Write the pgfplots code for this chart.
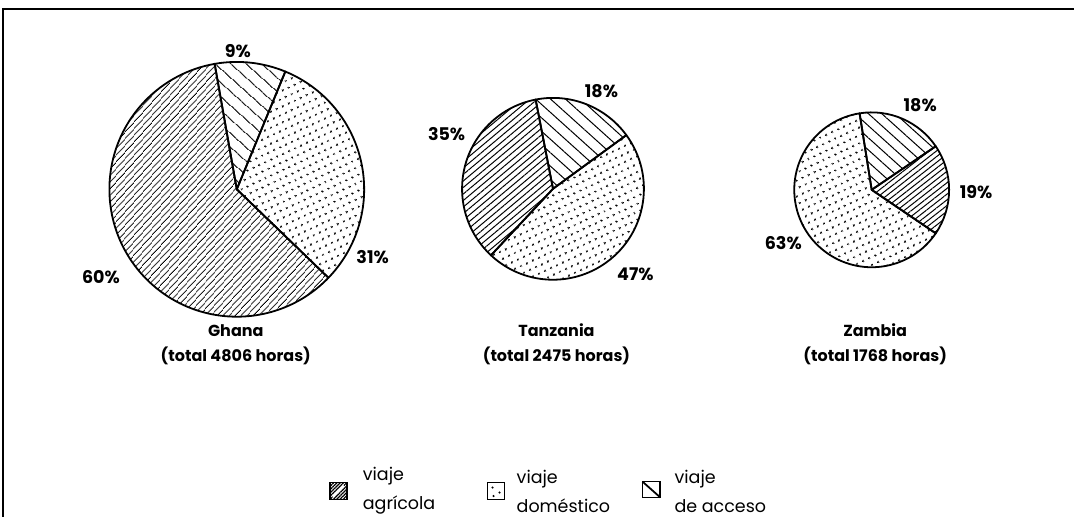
\documentclass[border=0pt]{standalone}
\usepackage{pgfplots}
\pgfplotsset{compat=1.18}
\usepackage{fontspec}
\setmainfont{Poppins}
\usetikzlibrary{patterns.meta}

% wedge: cx, cy, r, start angle, end angle, pattern
\newcommand\pwedge[6]{%
  \filldraw[pattern={#6}, draw=black, line width=1.8pt, line join=round]
    (axis cs:#1,#2) -- (axis cs:{#1+#3*cos(#4)},{#2+#3*sin(#4)})
    arc[start angle={#4}, end angle={#5}, radius=#3pt] -- cycle;}

\tikzset{
  pctlbl/.style={font=\fontsize{17.5}{20}\selectfont\bfseries},
  caplbl/.style={font=\fontsize{16}{25}\selectfont\bfseries, align=center},
  leglbl/.style={font=\fontsize{17.5}{29}\selectfont, align=left, anchor=west, inner sep=0pt}
}

\begin{document}
\begin{tikzpicture}
\begin{axis}[x=1pt, y=1pt, xmin=0, xmax=1075, ymin=0, ymax=517,
  hide axis, clip=false, scale only axis]
\path (axis cs:0,0) rectangle (axis cs:1075,517);
% frame
\draw[line width=2pt] (axis cs:3,0) -- (axis cs:3,508) -- (axis cs:1075,508);

% Ghana: access 9, domestic 31, agricultural 60
\pwedge{237}{327.5}{127.5}{100}{100-3.6*9}{Lines[angle=-42, distance=10.5pt, line width=1pt]}
\pwedge{237}{327.5}{127.5}{100-3.6*9}{100-3.6*40}{Dots[distance=6.5pt, radius=1.25pt, angle=25]}
\pwedge{237}{327.5}{127.5}{100-3.6*40}{100-3.6*100}{Lines[angle=48, distance=4pt, line width=0.9pt]}
\node[pctlbl] at (axis cs:238,466) {9\%};
\node[pctlbl] at (axis cs:373,260) {31\%};
\node[pctlbl] at (axis cs:101,240) {60\%};
\node[caplbl] at (axis cs:236,172) {Ghana\\(total 4806 horas)};

% Tanzania: access 18, domestic 47, agricultural 35
\pwedge{553.5}{328}{91}{101}{101-3.6*18}{Lines[angle=-42, distance=10pt, line width=1pt]}
\pwedge{553.5}{328}{91}{101-3.6*18}{101-3.6*65}{Dots[distance=6.5pt, radius=1.25pt, angle=25]}
\pwedge{553.5}{328}{91}{101-3.6*65}{101-3.6*100}{Lines[angle=40, distance=5pt, line width=1pt]}
\node[pctlbl] at (axis cs:602,426) {18\%};
\node[pctlbl] at (axis cs:447,383) {35\%};
\node[pctlbl] at (axis cs:636,243) {47\%};
\node[caplbl] at (axis cs:557,172) {Tanzania\\(total 2475 horas)};

% Zambia: access 18, agricultural 19, domestic 63
\pwedge{872.5}{327}{77.5}{99}{99-3.6*18}{Lines[angle=-42, distance=9pt, line width=1pt]}
\pwedge{872.5}{327}{77.5}{99-3.6*18}{99-3.6*37}{Lines[angle=38, distance=4.5pt, line width=1pt]}
\pwedge{872.5}{327}{77.5}{99-3.6*37}{99-3.6*100}{Dots[distance=6.5pt, radius=1.25pt, angle=25]}
\node[pctlbl] at (axis cs:921,412) {18\%};
\node[pctlbl] at (axis cs:977,325) {19\%};
\node[pctlbl] at (axis cs:784,274) {63\%};
\node[caplbl] at (axis cs:876,172) {Zambia\\(total 1768 horas)};

% legend
\filldraw[draw=black, line width=1.8pt, pattern={Lines[angle=45, distance=2.3pt, line width=1.1pt]}]
  (axis cs:330,17) rectangle (axis cs:347,34);
\draw[white, line width=2pt] (axis cs:333,20) -- (axis cs:344,31);
\draw[line width=1.8pt] (axis cs:330,17) rectangle (axis cs:347,34);
\draw[line width=1.8pt] (axis cs:488,17) rectangle (axis cs:505,34);
\fill (axis cs:493,29) circle[radius=1.2pt];
\fill (axis cs:500,24) circle[radius=1.2pt];
\fill (axis cs:494,20.5) circle[radius=1.2pt];
\draw[line width=1.8pt] (axis cs:643,19) rectangle (axis cs:661,35);
\draw[line width=1.8pt] (axis cs:643,35) -- (axis cs:661,19);
\node[leglbl] at (axis cs:363,25.5) {viaje\\agrícola};
\node[leglbl] at (axis cs:517,25.5) {viaje\\doméstico};
\node[leglbl] at (axis cs:675,25.5) {viaje\\de acceso};
\end{axis}
\end{tikzpicture}
\end{document}
